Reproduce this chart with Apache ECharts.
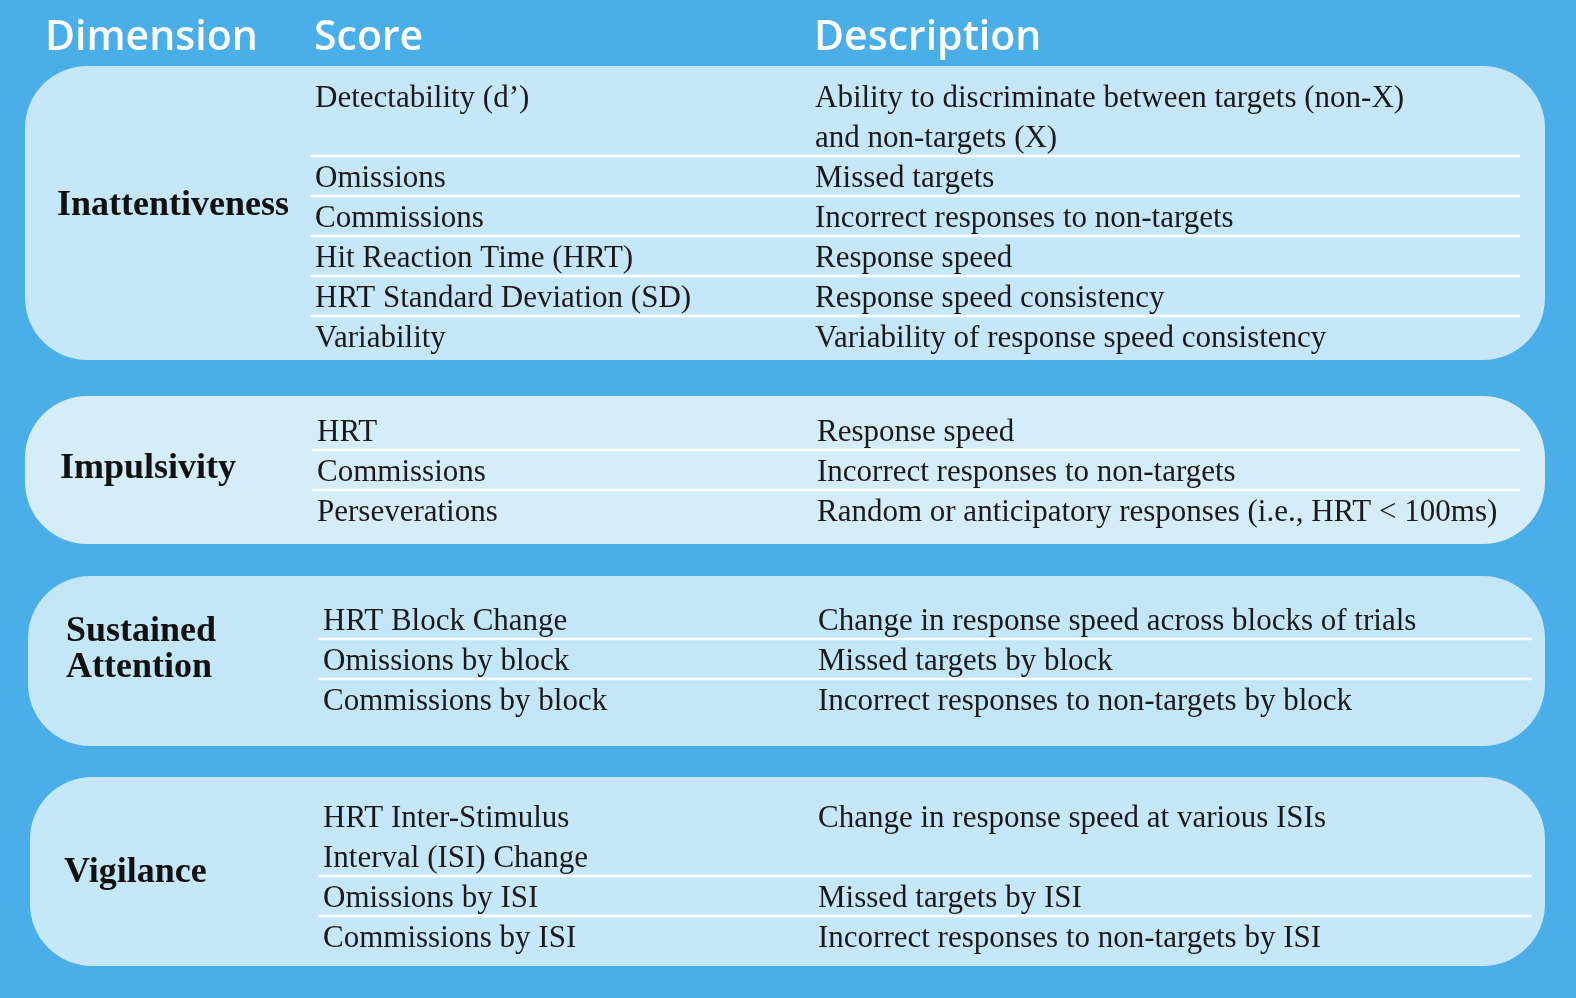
<!DOCTYPE html>
<html>
<head>
<meta charset="utf-8">
<script src="https://cdn.jsdelivr.net/npm/echarts@6/dist/echarts.min.js"></script>
<style>html,body{margin:0;padding:0;background:#4aaee8}#main{width:1576px;height:998px}</style>
</head>
<body>
<div id="main"></div>
<script>
var headers = ['Dimension', 'Score', 'Description'];
var dimensions = ['Inattentiveness', 'Impulsivity', 'Sustained\nAttention', 'Vigilance'];
// each row: [score, description]; '\n' marks a second line
var inattentiveRows = [
  ['Detectability (d\u2019)', 'Ability to discriminate between targets (non-X)\nand non-targets (X)'],
  ['Omissions', 'Missed targets'],
  ['Commissions', 'Incorrect responses to non-targets'],
  ['Hit Reaction Time (HRT)', 'Response speed'],
  ['HRT Standard Deviation (SD)', 'Response speed consistency'],
  ['Variability', 'Variability of response speed consistency']
];
var impulsivityRows = [
  ['HRT', 'Response speed'],
  ['Commissions', 'Incorrect responses to non-targets'],
  ['Perseverations', 'Random or anticipatory responses (i.e., HRT < 100ms)']
];
var sustainedRows = [
  ['HRT Block Change', 'Change in response speed across blocks of trials'],
  ['Omissions by block', 'Missed targets by block'],
  ['Commissions by block', 'Incorrect responses to non-targets by block']
];
var vigilanceRows = [
  ['HRT Inter-Stimulus\nInterval (ISI) Change', 'Change in response speed at various ISIs'],
  ['Omissions by ISI', 'Missed targets by ISI'],
  ['Commissions by ISI', 'Incorrect responses to non-targets by ISI']
];
var groupRows = [inattentiveRows, impulsivityRows, sustainedRows, vigilanceRows];

// layout per panel
var panels = [
  {x: 25, y: 66, w: 1520, h: 294, color: '#c6e7f9', first: 99, scoreX: 315, descX: 815, lineEnd: 1520, labX: 57, labY: 206},
  {x: 25, y: 396, w: 1520, h: 148, color: '#d5edf9', first: 433, scoreX: 317, descX: 817, lineEnd: 1520, labX: 60, labY: 469},
  {x: 28, y: 576, w: 1517, h: 170, color: '#c3e6f9', first: 622, scoreX: 323, descX: 818, lineEnd: 1532, labX: 66, labY: 650},
  {x: 30, y: 777, w: 1515, h: 189, color: '#c6e7f9', first: 819, scoreX: 323, descX: 818, lineEnd: 1532, labX: 64, labY: 873}
];
var lineH = 40;
var serif = '"Liberation Serif", "DejaVu Serif", serif';

var elements = [];
var headerX = [45, 314, 814];
headers.forEach(function (h, i) {
  elements.push({type: 'text', x: headerX[i], y: 38, style: {text: h, fill: '#fff', font: '600 41px "Open Sans", sans-serif', verticalAlign: 'middle'}});
});

panels.forEach(function (p, gi) {
  elements.push({type: 'rect', shape: {x: p.x, y: p.y, width: p.w, height: p.h, r: 62}, style: {fill: p.color}});
  elements.push({type: 'text', x: p.labX, y: p.labY, style: {text: dimensions[gi], fill: '#111', font: 'bold 36px ' + serif, verticalAlign: 'middle', lineHeight: 36}});
  var y = p.first;
  groupRows[gi].forEach(function (r, ri) {
    var n = Math.max(r[0].split('\n').length, r[1].split('\n').length);
    var st = {fill: '#1a1a1a', font: '31px ' + serif, verticalAlign: 'top', lineHeight: lineH};
    elements.push({type: 'text', x: p.scoreX, y: y - lineH / 2, style: Object.assign({text: r[0]}, st)});
    elements.push({type: 'text', x: p.descX, y: y - lineH / 2, style: Object.assign({text: r[1]}, st)});
    y += n * lineH;
    if (ri < groupRows[gi].length - 1) {
      var ly = y - lineH / 2 - 3;
      elements.push({type: 'line', shape: {x1: p.scoreX - 5, y1: ly, x2: p.lineEnd, y2: ly}, style: {stroke: '#ffffff', lineWidth: 2.5}});
    }
  });
});

var chart = echarts.init(document.getElementById('main'));
chart.setOption({backgroundColor: '#4aaee8', graphic: elements});
</script>
</body>
</html>
